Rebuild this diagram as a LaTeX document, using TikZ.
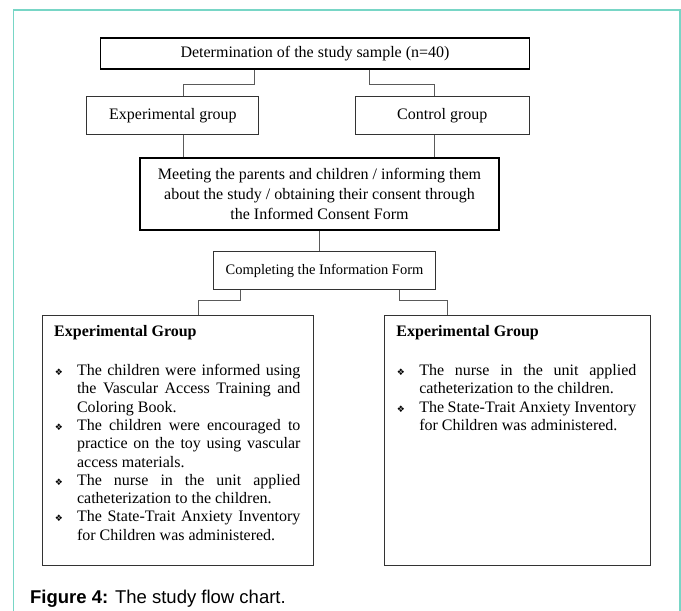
\documentclass[tikz,border=0pt]{standalone}
\usepackage{fontspec}
\setmainfont{Liberation Serif}
\setsansfont{Liberation Sans}
\newfontfamily\dingfont{DejaVu Sans}
\usetikzlibrary{arrows,fit}
\definecolor{frameteal}{RGB}{120,214,198}
\definecolor{linkgray}{RGB}{90,90,90}
\newcommand{\dmd}{{\dingfont\fontsize{9}{9}\selectfont ❖}}
\newcommand{\bitem}[1]{\par\noindent\hangindent=22.8pt\hangafter=1\makebox[22.8pt][l]{\hspace{0.5pt}\dmd}#1}

\begin{document}
\begin{tikzpicture}[x=1pt,y=-1pt,semithick,
		font=\fontsize{16}{18.3}\selectfont]
		\tikzstyle{every node}=[inner sep=0pt]
		\tikzstyle{heavybox}=[draw=black,line width=1.6pt,align=center]
		\tikzstyle{plainbox}=[draw=black!80,line width=0.9pt,align=center]
		\tikzstyle{link}=[draw=linkgray,line width=1pt]
		\useasboundingbox (0,0) rectangle (681,611);
		\draw[frameteal,line width=1.2pt] (13.5,611) -- (13.5,10) -- (680,10) -- (680,611);
		\node[heavybox,minimum width=429pt,minimum height=31pt] (sample) at (315,53.3) {Determination of the study sample (n=40)};
		\node[plainbox,minimum width=172pt,minimum height=38pt] (expgrp) at (172.9,115.7) {Experimental group};
		\node[plainbox,minimum width=174.5pt,minimum height=38pt] (ctrlgrp) at (442.3,115.7) {Control group};
		\node[heavybox,minimum width=359pt,minimum height=72pt,font=\fontsize{16}{20}\selectfont] (meet) at (319.5,193.8)
			{Meeting the parents and children / informing them\\about the study / obtaining their consent through\\the Informed Consent Form};
		\node[plainbox,minimum width=222pt,minimum height=38pt,font=\fontsize{14.5}{18}\selectfont] (infoform) at (324.5,270.7) {Completing the Information Form};
		\node[plainbox,anchor=north west] (expbox) at (41.6,314.7) {\parbox[c][250pt][t]{271.8pt}{\leftskip=12.2pt\rightskip=13.4pt
			\hyphenpenalty=10000\emergencystretch=20pt
			\vspace*{10pt}\textbf{Experimental Group}\par\vspace{21pt}
			\bitem{The children were informed using the Vascular Access Training and Coloring Book.}
			\bitem{The children were encouraged to practice on the toy using vascular access materials.}
			\bitem{The nurse in the unit applied catheterization to the children.}
			\bitem{The State-Trait Anxiety Inventory for Children was administered.}}};
		\node[plainbox,anchor=north west] (ctrlbox) at (383.8,314.7) {\parbox[c][250pt][t]{265.7pt}{\leftskip=12.2pt\rightskip=13.5pt
			\hyphenpenalty=10000\emergencystretch=20pt
			\vspace*{10pt}\textbf{Experimental Group}\par\vspace{21pt}
			\bitem{The nurse in the unit applied catheterization to the children.}
			\bitem{The State-Trait Anxiety Inventory for Children was administered.}}};
		\node[anchor=west,font=\sffamily\fontsize{18.5}{22}\selectfont] (caption) at (29.8,599) {\textbf{Figure 4:} The study flow chart.};
		% connectors
		\draw[link] ([xshift=-61pt]sample.south) -- ++(0,15.3) -| ([xshift=11pt]expgrp.north);
		\draw[link] ([xshift=54pt]sample.south) -- ++(0,15.3) -| ([xshift=-7.7pt]ctrlgrp.north);
		\draw[link] ([xshift=11pt]expgrp.south) -- ([xshift=11pt]expgrp.south |- meet.north);
		\draw[link] ([xshift=-7.7pt]ctrlgrp.south) -- ([xshift=-7.7pt]ctrlgrp.south |- meet.north);
		\draw[link] (meet.south) -- (meet.south |- infoform.north);
		\draw[link] ([xshift=-83.8pt]infoform.south) -- ++(0,10.3) -| ([xshift=20.5pt]expbox.north);
		\draw[link] ([xshift=74.5pt]infoform.south) -- ++(0,10.3) -| ([xshift=-69.6pt]ctrlbox.north);
	\end{tikzpicture}
\end{document}
